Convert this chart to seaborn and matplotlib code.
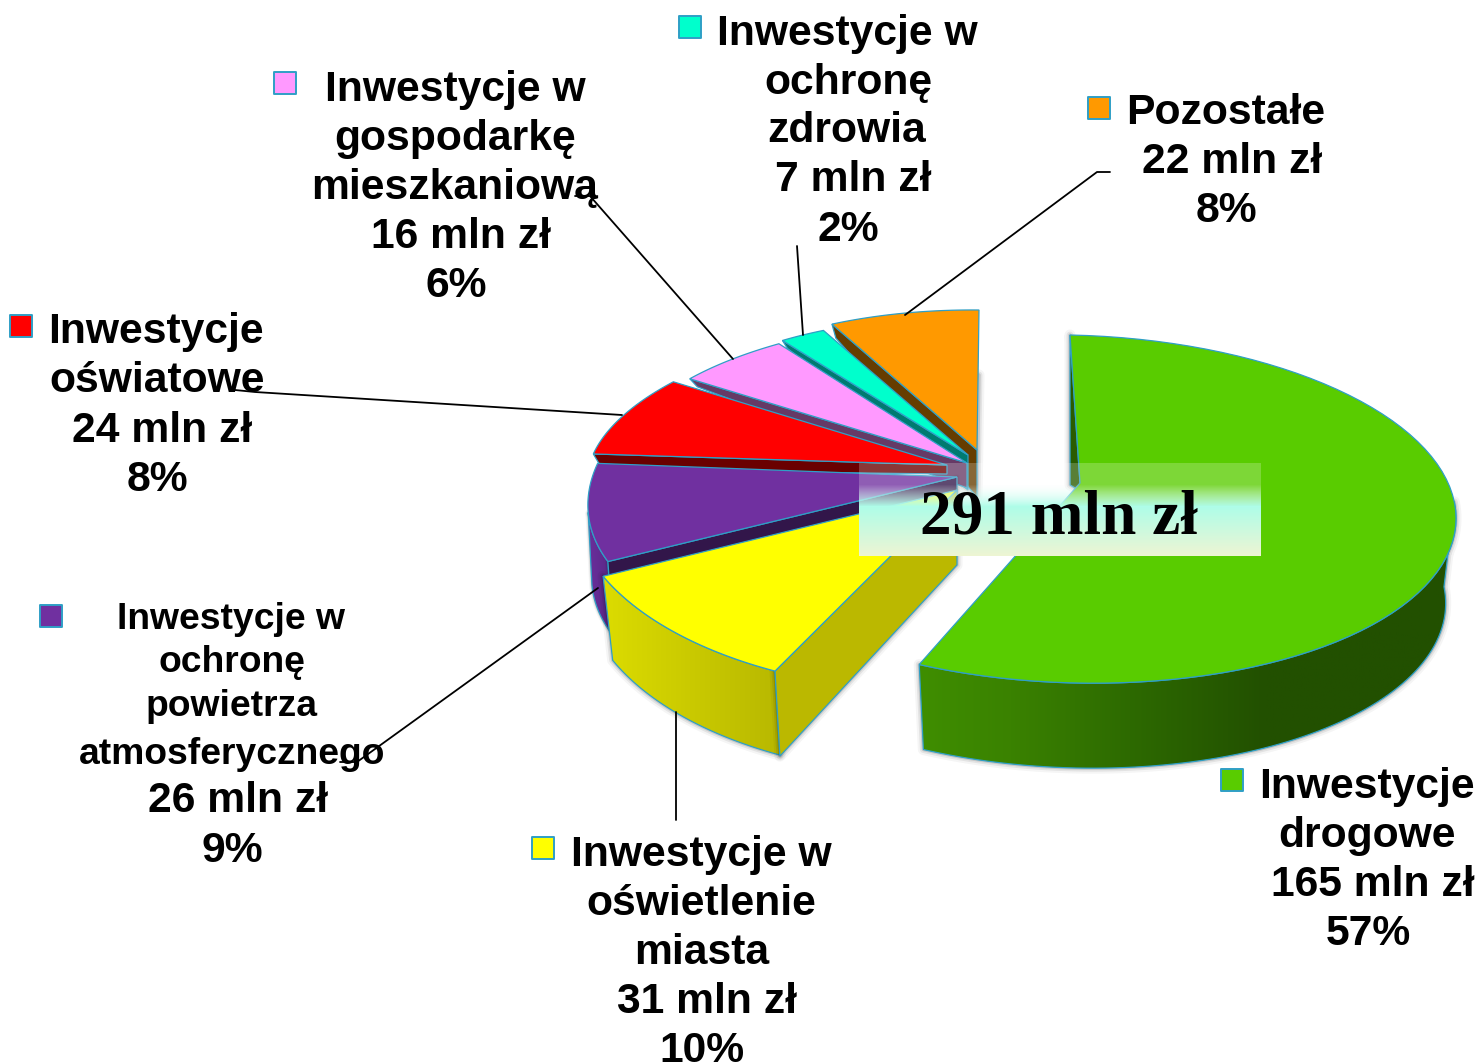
import numpy as np
import pandas as pd
import matplotlib
matplotlib.use("Agg")
import matplotlib.pyplot as plt
from matplotlib.colors import LinearSegmentedColormap, to_rgb
from matplotlib.patches import Polygon
import seaborn as sns

# Dane
categories = ["Inwestycje drogowe", "Inwestycje w oświetlenie miasta",
              "Inwestycje w ochronę powietrza atmosferycznego", "Inwestycje oświatowe",
              "Inwestycje w gospodarkę mieszkaniową", "Inwestycje w ochronę zdrowia", "Pozostałe"]
amounts = [165, 31, 26, 24, 16, 7, 22]
total_label = "291 mln zł"
label_lines = [
    ["Inwestycje", "drogowe", "165 mln zł", "57%"],
    ["Inwestycje w", "oświetlenie", "miasta", "31 mln zł", "10%"],
    ["Inwestycje w", "ochronę", "powietrza", "atmosferycznego", "26 mln zł", "9%"],
    ["Inwestycje", "oświatowe", "24 mln zł", "8%"],
    ["Inwestycje w", "gospodarkę", "mieszkaniową", "16 mln zł", "6%"],
    ["Inwestycje w", "ochronę", "zdrowia", "7 mln zł", "2%"],
    ["Pozostałe", "22 mln zł", "8%"],
]
top_colors = ["#59cc00", "#ffff00", "#7030a0", "#ff0000", "#ff99ff", "#00ffcc", "#ff9900"]
wall_colors = ["#2a5c00", "#bbb800", "#32164a", "#6a0000", "#663a66", "#007a70", "#663d00"]

# Uklad: geometria kazdego wycinka w pikselach (perspektywa przyblizona afinicznie)
GEOM = [
    dict(c=(1073, 509), r=(383, 174), k=(-3, 8), tip=(1080, 483), side=150, tipdrop=8, depth=85, outer=(85, 204.12), shadow=1.0, taper=0.973),
    dict(c=(957, 490), r=(385, 202), k=(27, 8), tip=(957, 490), side=85, tipdrop=75, depth=84, outer=(204.12, 242.47), shadow=1.0, taper=0.973),
    dict(c=(957, 477), r=(365, 181), k=(55, -1), tip=(957, 477), side=50, tipdrop=40, depth=72, outer=(242.47, 259), shadow=0.5, taper=0.99),
    dict(c=(947, 465), r=(358, 149), k=(39, -1), tip=(947, 465), side=16, tipdrop=9, depth=0, outer=None, shadow=0, taper=0.973),
    dict(c=(967, 463), r=(350, 145), k=(21, 3), tip=(967, 463), side=8, tipdrop=25, depth=0, outer=None, shadow=0, taper=0.973),
    dict(c=(968, 455), r=(318, 137), k=(1, 6), tip=(968, 455), side=8, tipdrop=35, depth=0, outer=None, shadow=0, taper=0.973),
    dict(c=(977, 450), r=(321, 140), k=(2, 3), tip=(977, 450), side=14, tipdrop=47, depth=65, outer=None, shadow=1.0, taper=0.973),
]
EDGE = "#2f9fc6"

LABEL_POS = [
    [(1367, 783), (1367, 832), (1373, 881), (1368, 930)],
    [(701, 851), (701, 900), (702, 949), (707, 998), (702, 1047)],
    [(231, 616), (232, 659), (232, 703), (232, 751), (238, 797), (232, 847)],
    [(156, 328), (157, 377), (162, 427), (157, 476)],
    [(455, 86), (455, 135), (455, 184), (461, 233), (456, 282)],
    [(847, 30), (848, 79), (847, 127), (853, 176), (848, 226)],
    [(1226, 109), (1232, 158), (1226, 207)],
]
BIG = 30.7
SMALL = 26.8
LABEL_SIZE = [[BIG] * 4, [BIG] * 5, [SMALL] * 4 + [BIG] * 2, [BIG] * 4, [BIG] * 5, [BIG] * 5, [BIG] * 3]
KEY_X = [1232, 543, 51, 21, 285, 690, 1099]
KEY_Y = [780, 848, 616, 326, 83, 27, 108]
LEADERS = [
    [(676, 712), (676, 820)],
    [(340, 762), (357, 762), (598, 588)],
    [(235, 390), (255, 392), (622, 415)],
    [(575, 196), (590, 196), (733, 359)],
    [(797, 246), (803, 335)],
    [(1110, 172), (1097, 172), (905, 315)],
]

sns.set_theme(style="white")
plt.rcParams["font.family"] = ["Liberation Sans", "DejaVu Sans"]

fig = plt.figure(figsize=(14.81, 10.64), dpi=100)
ax = fig.add_axes([0, 0, 1, 1])
ax.set_axis_off()

bounds = np.cumsum([0] + amounts) / sum(amounts) * 360.0
z = [1]


def next_z():
    z[0] += 1
    return z[0]


def arc(g, a, b, n=80):
    t = np.radians(np.linspace(a, b, n))
    x = g["c"][0] + g["r"][0] * np.sin(t) + g["k"][0] * np.cos(t)
    y = g["c"][1] - g["r"][1] * np.cos(t) + g["k"][1] * np.sin(t)
    return np.column_stack([x, y])


def lower(g, pts, drop):
    out = pts.copy()
    out[:, 0] = g["c"][0] + g["taper"] * (out[:, 0] - g["c"][0])
    out[:, 1] += drop
    return out


def shadow(poly, strength):
    order = next_z()
    for w, a in [(8, 0.04), (5, 0.07), (2.5, 0.12)]:
        ax.add_patch(Polygon(poly, closed=True, fc="none", ec="black", lw=w * strength, alpha=a,
                             joinstyle="round", zorder=order))


def gradient(poly, stops):
    order = next_z()
    xs = poly[:, 0]
    lo, hi = xs.min(), xs.max()
    pos = [(s - lo) / (hi - lo) for s, _ in stops]
    pos = np.clip(pos, 0, 1)
    pos[0], pos[-1] = 0, 1
    cmap = LinearSegmentedColormap.from_list("g", list(zip(pos, [c for _, c in stops])))
    im = ax.imshow(np.linspace(0, 1, 256)[None, :], cmap=cmap, aspect="auto",
                   extent=(lo, hi, poly[:, 1].max(), poly[:, 1].min()), zorder=order)
    clip = Polygon(poly, closed=True, transform=ax.transData)
    im.set_clip_path(clip)
    ax.add_patch(Polygon(poly, closed=True, fc="none", ec=EDGE, lw=0.9, zorder=order))


WALL_GRAD = {
    0: [(921, "#3f8e00"), (1010, "#3a8200"), (1130, "#2d6a00"), (1265, "#225000"), (1445, "#225000")],
    1: [(605, "#dcdc00"), (700, "#c8c800"), (780, "#b8b800")],
    2: [(590, "#6a2f9c"), (610, "#5a2886")],
}

# Rysowanie od tylu do przodu
for i in reversed(range(len(amounts))):
    g = GEOM[i]
    a, b = bounds[i], bounds[i + 1]
    rim = arc(g, a, b)
    tip = np.array(g["tip"], dtype=float)
    if g["outer"]:
        oa, ob = g["outer"]
        front = arc(g, oa, ob)
        wall = np.vstack([front, lower(g, front, g["depth"])[::-1]])
        if g["shadow"]:
            shadow(wall, g["shadow"])
        gradient(wall, WALL_GRAD[i])
    elif g["shadow"]:
        shadow(np.vstack([rim + [0, g["depth"]], tip + [0, g["tipdrop"]]]), g["shadow"])
    start = rim[0]
    side = np.array([
        start, tip, tip + [0, g["tipdrop"]],
        lower(g, start[None, :], g["side"])[0],
    ])
    if g["shadow"] and g["outer"]:
        shadow(side, g["shadow"])
    ax.add_patch(Polygon(side, closed=True, fc=wall_colors[i], ec=EDGE, lw=0.9, zorder=next_z()))
    ax.add_patch(Polygon(np.vstack([rim, tip]), closed=True, fc=top_colors[i], ec=EDGE, lw=0.9, zorder=next_z()))

# Ramka z suma
box = (859, 1261, 556, 463)
ys = np.arange(463, 556)
alpha = np.interp(ys, [463, 484, 506, 556], [0.22, 0.22, 1.0, 1.0])
rgb = np.array([np.interp(ys, [463, 484, 506, 556], [to_rgb(c)[k] for c in ["#ffffff", "#ffffff", "#aefde8", "#eff5d3"]])
                for k in range(3)]).T
ax.imshow(np.column_stack([rgb, alpha])[:, None, :], aspect="auto", extent=box, zorder=next_z())
ax.text(1059, 533, total_label, family=["Liberation Serif"], fontweight="bold", fontsize=45.5,
        ha="center", va="baseline", color="black", zorder=next_z())

# Etykiety
for lines, pos, sizes in zip(label_lines, LABEL_POS, LABEL_SIZE):
    for line, (x, y), size in zip(lines, pos, sizes):
        ax.text(x, y + size * 0.48, line, fontsize=size, fontweight="bold", ha="center",
                va="baseline", color="black", zorder=next_z())

for pts in LEADERS:
    xs, ys_ = zip(*pts)
    ax.plot(xs, ys_, color="black", lw=1.3, zorder=next_z())

keys = pd.DataFrame({"x": KEY_X, "y": KEY_Y, "kategoria": categories})
sns.scatterplot(data=keys, x="x", y="y", hue="kategoria", palette=top_colors, marker="s", s=250,
                edgecolor=EDGE, linewidth=1.4, legend=False, ax=ax, zorder=next_z())

ax.set_xlim(0, 1481)
ax.set_ylim(1064, 0)
ax.set_axis_off()
fig.savefig("out.png", dpi=100)
